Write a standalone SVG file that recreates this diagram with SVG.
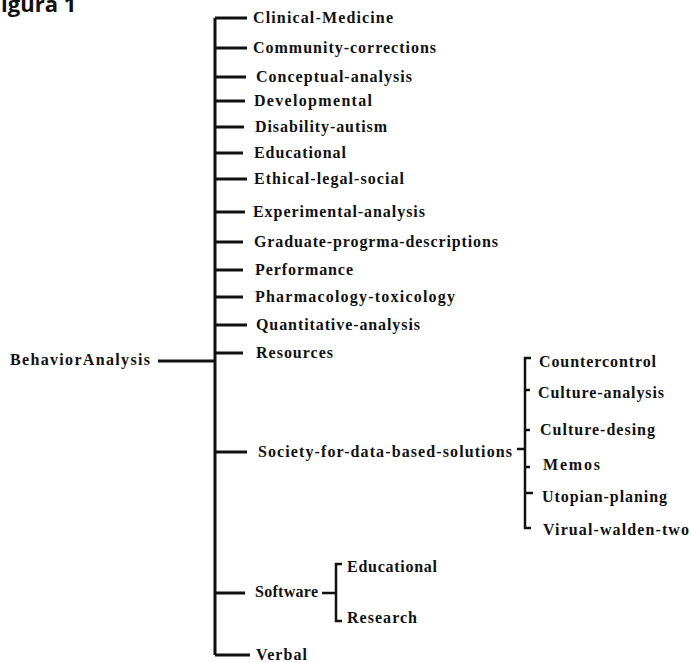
<svg xmlns="http://www.w3.org/2000/svg" width="691" height="662" viewBox="0 0 691 662">
<style>
.t{font-family:"Liberation Serif","Times New Roman",serif;font-weight:bold;font-size:16px;fill:#111;}
.c{stroke:#111;stroke-width:3;fill:none;stroke-linecap:butt;}
.b{stroke:#111;stroke-width:2.5;fill:none;}
.title{font-family:"Open Sans","DejaVu Sans",sans-serif;font-weight:bold;font-size:22px;fill:#111;}
</style>
<rect width="691" height="662" fill="#fff"/>
<text class="title" x="-11" y="12">Figura 1</text>
<g id="connectors">
<path class="c" d="M215,18 V655"/>
<path class="c" d="M158,361 H215" stroke-width="3.5"/>
<path class="c" d="M215,18 H247 M215,48 H247 M215,77 H246 M215,101 H245 M215,127 H244 M215,153 H243 M215,179 H247 M215,212 H245 M215,242 H243 M215,270 H243 M215,297 H243 M215,325 H247 M215,353 H243 M215,452 H247 M215,593 H245 M215,655 H250"/>
<path class="b" d="M517,449 H525 M531,358 H525 V528 H531 M525,390 H530 M525,430 H530 M525,467 H530 M525,493 H533"/>
<path class="b" d="M322,593 H336 M342,564 H336 V621 H342"/>
</g>
<g id="root"><text class="t" x="10" y="365" textLength="140" lengthAdjust="spacing">BehaviorAnalysis</text></g>
<g id="n1"><text class="t" x="253" y="23" textLength="140" lengthAdjust="spacing">Clinical-Medicine</text></g>
<g id="n2"><text class="t" x="253" y="53" textLength="183" lengthAdjust="spacing">Community-corrections</text></g>
<g id="n3"><text class="t" x="256" y="82" textLength="156" lengthAdjust="spacing">Conceptual-analysis</text></g>
<g id="n4"><text class="t" x="254" y="106" textLength="118" lengthAdjust="spacing">Developmental</text></g>
<g id="n5"><text class="t" x="255" y="132" textLength="132" lengthAdjust="spacing">Disability-autism</text></g>
<g id="n6"><text class="t" x="254" y="158" textLength="92" lengthAdjust="spacing">Educational</text></g>
<g id="n7"><text class="t" x="254" y="184" textLength="150" lengthAdjust="spacing">Ethical-legal-social</text></g>
<g id="n8"><text class="t" x="253" y="217" textLength="172" lengthAdjust="spacing">Experimental-analysis</text></g>
<g id="n9"><text class="t" x="254" y="247" textLength="244" lengthAdjust="spacing">Graduate-progrma-descriptions</text></g>
<g id="n10"><text class="t" x="255" y="275" textLength="98" lengthAdjust="spacing">Performance</text></g>
<g id="n11"><text class="t" x="255" y="302" textLength="200" lengthAdjust="spacing">Pharmacology-toxicology</text></g>
<g id="n12"><text class="t" x="256" y="330" textLength="164" lengthAdjust="spacing">Quantitative-analysis</text></g>
<g id="n13"><text class="t" x="256" y="358" textLength="77" lengthAdjust="spacing">Resources</text></g>
<g id="n14"><text class="t" x="258" y="457" textLength="254" lengthAdjust="spacing">Society-for-data-based-solutions</text></g>
<g id="n15"><text class="t" x="255" y="597" textLength="63" lengthAdjust="spacing">Software</text></g>
<g id="n16"><text class="t" x="256" y="660" textLength="51" lengthAdjust="spacing">Verbal</text></g>
<g id="s1"><text class="t" x="539" y="367" textLength="117" lengthAdjust="spacing">Countercontrol</text></g>
<g id="s2"><text class="t" x="538" y="398" textLength="126" lengthAdjust="spacing">Culture-analysis</text></g>
<g id="s3"><text class="t" x="540" y="435" textLength="115" lengthAdjust="spacing">Culture-desing</text></g>
<g id="s4"><text class="t" x="543" y="470" textLength="57" lengthAdjust="spacing">Memos</text></g>
<g id="s5"><text class="t" x="542" y="502" textLength="125" lengthAdjust="spacing">Utopian-planing</text></g>
<g id="s6"><text class="t" x="543" y="535" textLength="146" lengthAdjust="spacing">Virual-walden-two</text></g>
<g id="w1"><text class="t" x="347" y="572" textLength="90" lengthAdjust="spacing">Educational</text></g>
<g id="w2"><text class="t" x="347" y="623" textLength="70" lengthAdjust="spacing">Research</text></g>
</svg>
